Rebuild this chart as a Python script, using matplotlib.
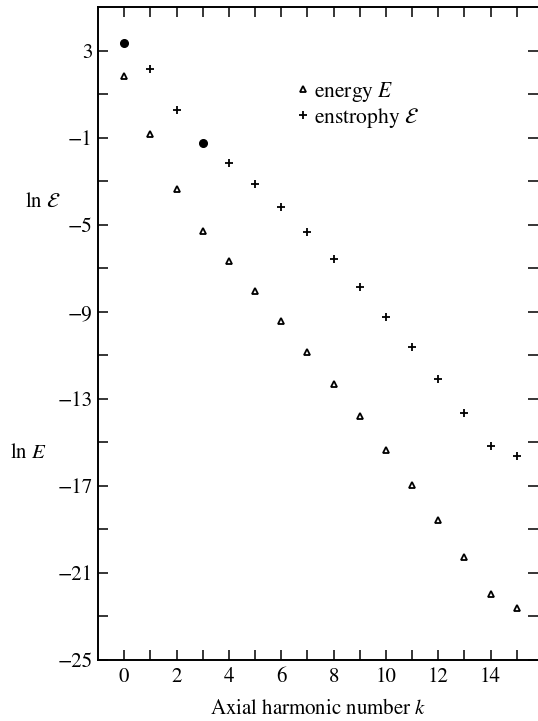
import numpy as np
import matplotlib.pyplot as plt

plt.rcParams['font.family'] = 'STIXGeneral'
plt.rcParams['mathtext.fontset'] = 'stix'
plt.rcParams['savefig.bbox'] = None

# axial harmonic numbers
k = list(range(16))

# ln E, energy spectrum
energy = [1.84, -0.83, -3.38, -5.31, -6.69, -8.07, -9.41, -10.85,
          -12.30, -13.80, -15.36, -16.95, -18.58, -20.26, -21.95, -22.62]

# ln of enstrophy
k_enst = [1, 2, 4, 5, 6, 7, 8, 9, 10, 11, 12, 13, 14, 15]
enstrophy = [2.14, 0.27, -2.15, -3.15, -4.20, -5.34, -6.56, -7.88,
             -9.23, -10.64, -12.08, -13.63, -15.18, -15.61]

# filled points
k_dot = [0, 3]
dots = [3.35, -1.23]

yticks = list(range(-25, 4, 2))
ylabels = [('\u2212%d' % -v if v < 0 else '%d' % v) if (3 - v) % 4 == 0 else '' for v in yticks]
xticks = list(range(16))
xlabels = [str(v) if v % 2 == 0 else '' for v in xticks]

fig = plt.figure(figsize=(5.38, 7.21), dpi=100)
# the frame runs off the right edge of the page, so stop the axes at the edge
ax = fig.add_axes([98 / 538, 61 / 721, 440 / 538, 653 / 721])

ax.plot(k, energy, linestyle='none', marker='^', markersize=5,
        markerfacecolor='white', markeredgecolor='black', markeredgewidth=1.3,
        label='energy $E$', clip_on=False)
ax.plot(k_enst, enstrophy, linestyle='none', marker='+', markersize=6,
        color='black', markeredgewidth=1.3, label=r'enstrophy $\mathcal{E}$')
ax.plot(k_dot, dots, linestyle='none', marker='o', markersize=5.5, color='black')

ax.set_xlim(-1, 15.81)
ax.set_ylim(-25, 5)
ax.set_yticks(yticks)
ax.set_yticklabels(ylabels)
ax.set_xticks(xticks)
ax.set_xticklabels(xlabels)
ax.tick_params(axis='both', direction='in', length=7, width=1.1,
               labelsize=15, top=True, right=True)
ax.tick_params(axis='y', which='both', right=True, pad=4)
ax.tick_params(axis='x', pad=5)
for s in ax.spines.values():
    s.set_linewidth(1.4)
ax.spines['right'].set_visible(False)

ax.set_xlabel('Axial harmonic number $k$', fontsize=15, labelpad=9)

fig.text(25 / 538, 1 - 202 / 721, r'ln $\mathcal{E}$', fontsize=15, va='center', ha='left')
fig.text(10 / 538, 1 - 453 / 721, r'ln $E$', fontsize=15, va='center', ha='left')

ax.legend(loc='upper left', bbox_to_anchor=(0.43, 0.905), frameon=False,
          fontsize=15.5, handlelength=0.5, handletextpad=0.25,
          labelspacing=0.1, borderpad=0, numpoints=1)

fig.savefig('out.png', dpi=100, bbox_inches=None)
